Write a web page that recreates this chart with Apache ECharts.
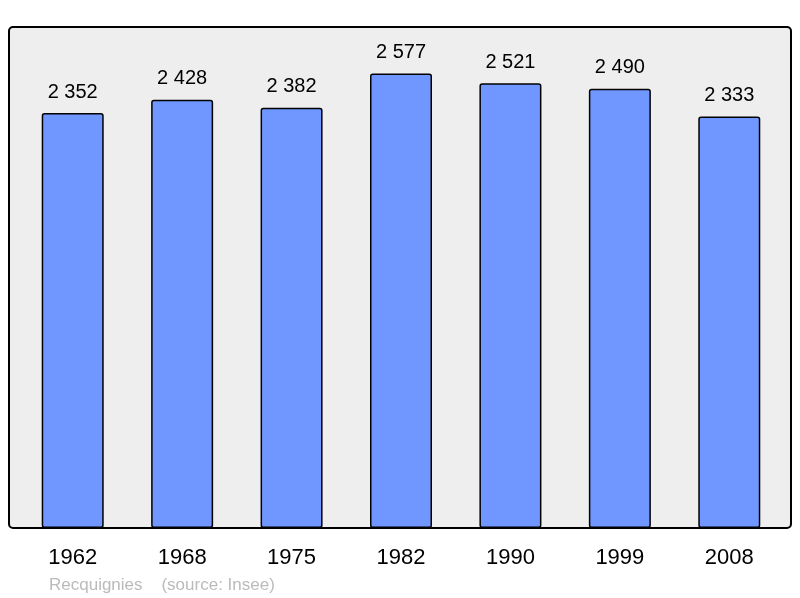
<!DOCTYPE html>
<html>
<head>
<meta charset="utf-8">
<script src="https://cdn.jsdelivr.net/npm/echarts@6/dist/echarts.min.js"></script>
<style>
  html, body { margin: 0; padding: 0; background: #fff; }
  #main { width: 800px; height: 598px; }
</style>
</head>
<body>
<div id="main"></div>
<script>
// années et population
var years = ['1962', '1968', '1975', '1982', '1990', '1999', '2008'];
var population = [2352, 2428, 2382, 2577, 2521, 2490, 2333];

var myChart = echarts.init(document.getElementById('main'));

var option = {
  animation: false,
  // cadre gris
  graphic: [
    {
      type: 'rect',
      z: -10,
      shape: { x: 9, y: 27, width: 782, height: 501, r: 4 },
      style: { fill: '#eeeeee', stroke: '#000', lineWidth: 2 }
    },
    {
      type: 'text',
      left: 49,
      top: 577,
      style: {
        text: 'Recquignies    (source: Insee)',
        fill: '#bbbbbb',
        font: '17px "Liberation Sans", Arial, sans-serif'
      }
    }
  ],
  grid: { left: 18, right: 16, top: 27, bottom: 70 },
  xAxis: {
    type: 'category',
    data: years,
    axisLine: { show: false },
    axisTick: { show: false },
    axisLabel: {
      margin: 19,
      color: '#000',
      fontSize: 22,
      fontFamily: '"Liberation Sans", Arial, sans-serif'
    }
  },
  yAxis: {
    type: 'value',
    min: 0,
    max: 2840,
    show: false,
    splitLine: { show: false }
  },
  series: [{
    type: 'bar',
    data: population,
    barWidth: 62,
    itemStyle: {
      color: '#7097ff',
      borderColor: '#000',
      borderWidth: 1.5,
      borderRadius: 2
    },
    label: {
      show: true,
      position: 'top',
      distance: 11,
      color: '#000',
      fontSize: 20,
      fontFamily: '"Liberation Sans", Arial, sans-serif',
      formatter: function (p) {
        return String(p.value).replace(/\B(?=(\d{3})+(?!\d))/g, ' ');
      }
    }
  }]
};

myChart.setOption(option);
</script>
</body>
</html>
